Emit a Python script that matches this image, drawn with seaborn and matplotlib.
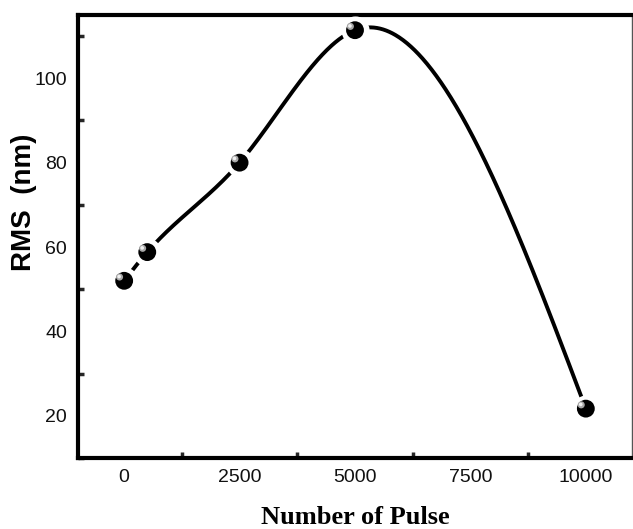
import numpy as np
import pandas as pd
import matplotlib
matplotlib.use("Agg")
import matplotlib.pyplot as plt
import seaborn as sns
from matplotlib.ticker import MultipleLocator

pulses = [0, 500, 2500, 5000, 10000]
rms = [52.0, 58.8, 80.0, 111.4, 21.7]
xticks = [0, 2500, 5000, 7500, 10000]
yticks = [20, 40, 60, 80, 100]


def natural_spline(x, y, n=600):
    x = np.asarray(x, float); y = np.asarray(y, float)
    k = len(x); h = np.diff(x)
    A = np.zeros((k, k)); b = np.zeros(k)
    A[0, 0] = A[-1, -1] = 1
    for i in range(1, k - 1):
        A[i, i - 1] = h[i - 1]; A[i, i] = 2 * (h[i - 1] + h[i]); A[i, i + 1] = h[i]
        b[i] = 3 * ((y[i + 1] - y[i]) / h[i] - (y[i] - y[i - 1]) / h[i - 1])
    c = np.linalg.solve(A, b)
    bb = (y[1:] - y[:-1]) / h - h * (2 * c[:-1] + c[1:]) / 3
    d = (c[1:] - c[:-1]) / (3 * h)
    xs = np.linspace(x[0], x[-1], n)
    idx = np.clip(np.searchsorted(x, xs) - 1, 0, k - 2)
    dx = xs - x[idx]
    ys = y[idx] + bb[idx] * dx + c[idx] * dx ** 2 + d[idx] * dx ** 3
    return xs, ys


sns.set_theme(style="white")
plt.rcParams['font.family'] = ['Liberation Sans', 'DejaVu Sans']

fig = plt.figure(figsize=(6.33, 5.29), dpi=100)
ax = fig.add_axes([78 / 633, 1 - 458 / 529, (632 - 78) / 633, (458 - 15) / 529])

xs, ys = natural_spline(pulses, rms)
curve = pd.DataFrame({"x": xs, "y": ys})
sns.lineplot(data=curve, x="x", y="y", ax=ax, color="black", linewidth=2.8, zorder=2)

pts = pd.DataFrame({"Number of Pulse": pulses, "RMS": rms})
sns.scatterplot(data=pts, x="Number of Pulse", y="RMS", ax=ax, s=150, color="black",
                edgecolor="white", linewidth=8, zorder=3)
sns.scatterplot(data=pts, x="Number of Pulse", y="RMS", ax=ax, s=165, color="black",
                edgecolor="none", zorder=4)
# highlight
ax.scatter(np.array(pulses) - 100, np.array(rms) + 0.9, s=26, color="#a8a8a8",
           edgecolor="none", zorder=5)
ax.scatter(np.array(pulses) - 110, np.array(rms) + 1.0, s=7, color="#f0f0f0",
           edgecolor="none", zorder=6)

ax.set_xlim(-1000, 11000)
ax.set_ylim(10, 115)
ax.set_xticks(xticks)
ax.set_yticks(yticks)
ax.xaxis.set_minor_locator(MultipleLocator(1250))
ax.yaxis.set_minor_locator(MultipleLocator(10))
ax.tick_params(axis="both", which="major", direction="in", length=8, width=2.5,
               labelsize=14, colors="black", pad=8, top=False, right=False)
ax.tick_params(axis="both", which="minor", direction="in", length=4, width=2.5,
               top=False, right=False, bottom=True, left=True)
for lab in ax.get_xticklabels() + ax.get_yticklabels():
    lab.set_color("#111111")

for side in ["left", "bottom", "top"]:
    ax.spines[side].set_linewidth(3)
    ax.spines[side].set_color("black")
ax.spines["right"].set_linewidth(1)
ax.spines["right"].set_color("#555555")

ax.set_xlabel("Number of Pulse", fontsize=19, fontweight="bold", color="black",
              family=["Liberation Serif", "DejaVu Serif"])
ax.xaxis.set_label_coords((355 - 78) / 554, -(506 - 458) / 443)
ax.set_ylabel("RMS  (nm)", fontsize=20, fontweight="bold", color="black")
ax.yaxis.set_label_coords(-(78 - 37) / 554, (458 - 202) / 443)

fig.savefig("out.png", dpi=100)
